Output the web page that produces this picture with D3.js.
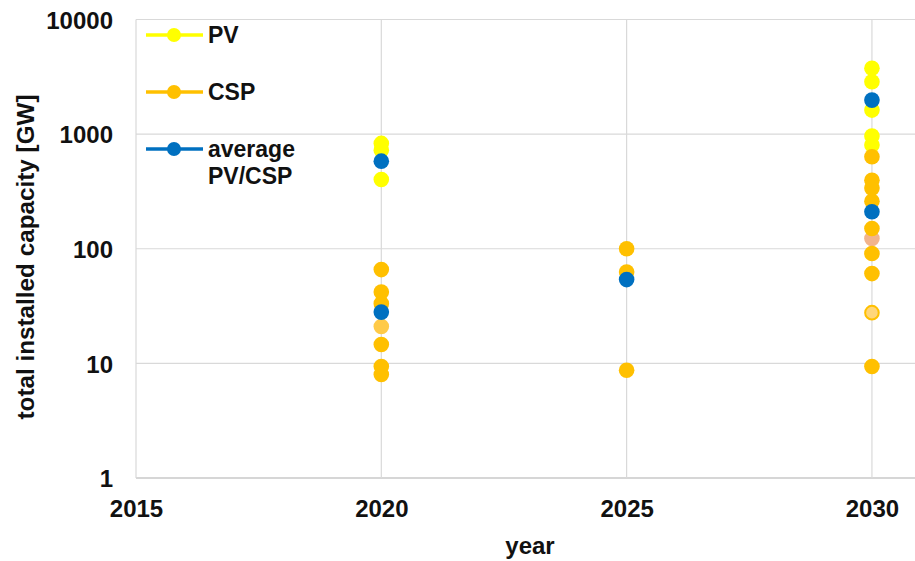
<!DOCTYPE html>
<html>
<head>
<meta charset="utf-8">
<script src="https://cdn.jsdelivr.net/npm/d3@7/dist/d3.min.js"></script>
<style>
  html, body { margin: 0; padding: 0; background: #fff; overflow: hidden; }
  svg { display: block; font-family: "Liberation Sans", Arial, sans-serif; }
</style>
</head>
<body>
<svg id="chart" width="915" height="561"></svg>
<script>
// Installed solar capacity scenarios [GW] by target year
const xTicks = [2015, 2020, 2025, 2030];
const yTicks = [1, 10, 100, 1000, 10000];

const pvYears   = [2020, 2020, 2020, 2030, 2030, 2030, 2030, 2030];
const pvValues  = [830, 725, 402, 3750, 2860, 1620, 961, 802];

const cspYears  = [2020, 2020, 2020, 2020, 2020, 2020, 2025, 2025, 2025,
                   2030, 2030, 2030, 2030, 2030, 2030, 2030, 2030];
const cspValues = [65.8, 42, 33.2, 14.6, 9.4, 8.0, 100, 62.7, 8.7,
                   634, 396, 338, 260, 150, 90.8, 60.7, 9.4];

// CSP scenarios shown with lighter fills
const cspLightYears  = [2020, 2030, 2030];
const cspLightValues = [21, 123, 27.7];
const cspLightFills  = ["#FFCA47", "#F2B48C", "#FFD67A"];
const cspLightStroke = ["none", "none", "#FFC000"];

const avgYears  = [2020, 2020, 2025, 2030, 2030];
const avgValues = [581, 28, 53.8, 1980, 210];

const legendLabels = [["PV"], ["CSP"], ["average", "PV/CSP"]];
const legendColors = ["#FFFF00", "#FFC000", "#0070C0"];

const svg = d3.select("#chart");
const plotLeft = 136, plotTop = 19.5, plotBottom = 478, plotRight = 921;

const x = d3.scaleLinear().domain([2015, 2031]).range([plotLeft, plotRight]);
const y = d3.scaleLog().domain([1, 10000]).range([plotBottom, plotTop]);

const gridColor = "#d9d9d9";
const textColor = "#111";

// gridlines
const grid = svg.append("g");
grid.selectAll("line.h").data(yTicks).join("line")
  .attr("x1", plotLeft).attr("x2", 915)
  .attr("y1", d => y(d)).attr("y2", d => y(d))
  .attr("stroke", d => d === 1 ? "#c8c8c8" : gridColor).attr("stroke-width", d => d === 1 ? 1.5 : 1.2);
grid.selectAll("line.v").data(xTicks).join("line")
  .attr("x1", d => x(d)).attr("x2", d => x(d))
  .attr("y1", plotTop).attr("y2", plotBottom)
  .attr("stroke", gridColor).attr("stroke-width", 1.2);

// y axis labels
const yAxis = d3.axisLeft(y).tickValues(yTicks).tickFormat(d3.format("d")).tickSize(0).tickPadding(0);
const gy = svg.append("g").attr("transform", `translate(${113},0)`).call(yAxis);
gy.select(".domain").remove();
gy.selectAll("text").attr("font-size", 24).attr("font-weight", "bold").attr("fill", textColor)
  .attr("dy", "0.36em").attr("x", 0);

// x axis labels
const xAxis = d3.axisBottom(x).tickValues(xTicks).tickFormat(d3.format("d")).tickSize(0).tickPadding(0);
const gx = svg.append("g").attr("transform", `translate(0,${500})`).call(xAxis);
gx.select(".domain").remove();
gx.selectAll("text").attr("font-size", 24).attr("font-weight", "bold").attr("fill", textColor)
  .attr("dy", "0.36em").attr("y", 8);

// axis titles
svg.append("text").attr("x", 530).attr("y", 554).attr("text-anchor", "middle")
  .attr("font-size", 24).attr("font-weight", "bold").attr("fill", textColor).text("year");
svg.append("text").attr("transform", "translate(34,257) rotate(-90)").attr("text-anchor", "middle")
  .attr("font-size", 24).attr("font-weight", "bold").attr("fill", textColor)
  .attr("textLength", 325).attr("lengthAdjust", "spacingAndGlyphs")
  .text("total installed capacity [GW]");

const r = 7.8;
const marks = svg.append("g");

marks.selectAll("circle.pv").data(pvValues).join("circle")
  .attr("cx", (d, i) => x(pvYears[i])).attr("cy", d => y(d)).attr("r", r).attr("fill", "#FFFF00");

marks.selectAll("circle.cspl").data(cspLightValues).join("circle")
  .attr("cx", (d, i) => x(cspLightYears[i])).attr("cy", d => y(d))
  .attr("r", (d, i) => cspLightStroke[i] === "none" ? r : r - 1)
  .attr("fill", (d, i) => cspLightFills[i])
  .attr("stroke", (d, i) => cspLightStroke[i]).attr("stroke-width", 2);

marks.selectAll("circle.csp").data(cspValues).join("circle")
  .attr("cx", (d, i) => x(cspYears[i])).attr("cy", d => y(d)).attr("r", r).attr("fill", "#FFC000");

marks.selectAll("circle.avg").data(avgValues).join("circle")
  .attr("cx", (d, i) => x(avgYears[i])).attr("cy", d => y(d)).attr("r", r).attr("fill", "#0070C0");

// legend
const legendY = [35, 92, 149];
const lg = svg.append("g");
legendLabels.forEach((lines, i) => {
  const g = lg.append("g").attr("transform", `translate(0,${legendY[i]})`);
  g.append("line").attr("x1", 146).attr("x2", 203).attr("y1", 0).attr("y2", 0)
    .attr("stroke", legendColors[i]).attr("stroke-width", 3.5);
  g.append("circle").attr("cx", 174).attr("cy", 0).attr("r", 7).attr("fill", legendColors[i]);
  const t = g.append("text").attr("x", 208).attr("y", 0)
    .attr("font-size", 23).attr("font-weight", "bold").attr("fill", textColor);
  lines.forEach((s, k) => t.append("tspan").attr("x", 208).attr("dy", k === 0 ? "0.36em" : "1.15em").text(s));
});
</script>
</body>
</html>
